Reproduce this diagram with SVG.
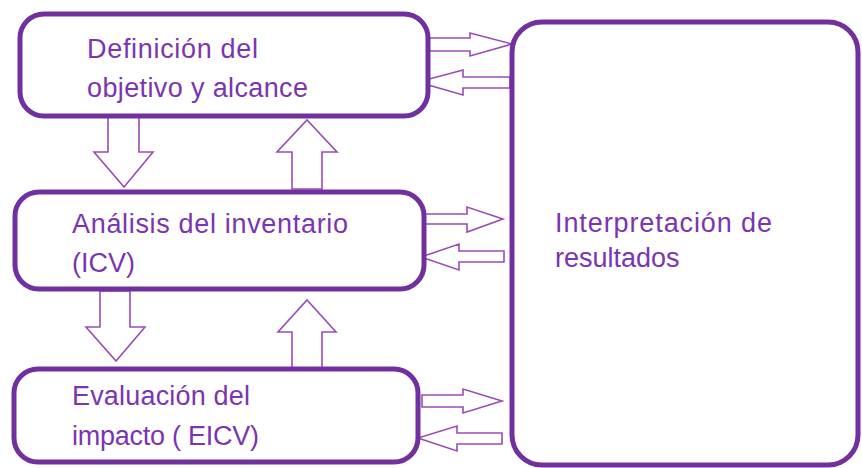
<svg xmlns="http://www.w3.org/2000/svg" width="862" height="468" viewBox="0 0 862 468">
<style>
.box{fill:#fff;stroke:#7030a0;stroke-width:5}
.arr{fill:#fff;stroke:#9a4cb4;stroke-width:1.6;stroke-linejoin:miter}
.t{font-family:"Liberation Sans",Arial,sans-serif;font-size:27px;fill:#7b35b0}
</style>
<rect width="862" height="468" fill="#fff"/>
<g id="connectors">
<polygon class="arr" points="108,117 139,117 139,152 153,152 124,187 94,152 108,152"/>
<polygon class="arr" points="292,189 322,189 322,152 337,152 307,120 277,152 292,152"/>
<polygon class="arr" points="100,291 130,291 130,327 145,327 116,361 86,327 100,327"/>
<polygon class="arr" points="292,368 322,368 322,332 336,332 307,300 278,332 292,332"/>
<polygon class="arr" points="428,38 470,38 470,33 512,44 470,56 470,51 428,51"/>
<polygon class="arr" points="510,77 463,77 463,70 418,82 463,95 463,88 510,88"/>
<polygon class="arr" points="424,214 467,214 467,207 503,219 467,232 467,224 424,224"/>
<polygon class="arr" points="504,251 459,251 459,244 421,257 459,270 459,262 504,262"/>
<polygon class="arr" points="422,395 463,395 463,389 502,401 463,413 463,407 422,407"/>
<polygon class="arr" points="502,433 457,433 457,426 418,438 457,451 457,444 502,444"/>
</g>
<g id="node-definicion">
<rect class="box" x="20" y="14" width="408" height="102" rx="24"/>
<text class="t" x="87" y="58" textLength="171">Definición del</text>
<text class="t" x="87" y="97" textLength="221">objetivo y alcance</text>
</g>
<g id="node-analisis">
<rect class="box" x="15" y="192" width="409" height="97" rx="24"/>
<text class="t" x="72" y="233" textLength="276">Análisis del inventario</text>
<text class="t" x="72" y="272">(ICV)</text>
</g>
<g id="node-evaluacion">
<rect class="box" x="14" y="369" width="404" height="93" rx="24"/>
<text class="t" x="72" y="405" textLength="178">Evaluación del</text>
<text class="t" x="72" y="445" textLength="187">impacto ( EICV)</text>
</g>
<g id="node-interpretacion">
<rect class="box" x="512" y="22" width="346" height="443" rx="30"/>
<text class="t" x="555" y="232" textLength="217">Interpretación de</text>
<text class="t" x="555" y="267">resultados</text>
</g>
</svg>
